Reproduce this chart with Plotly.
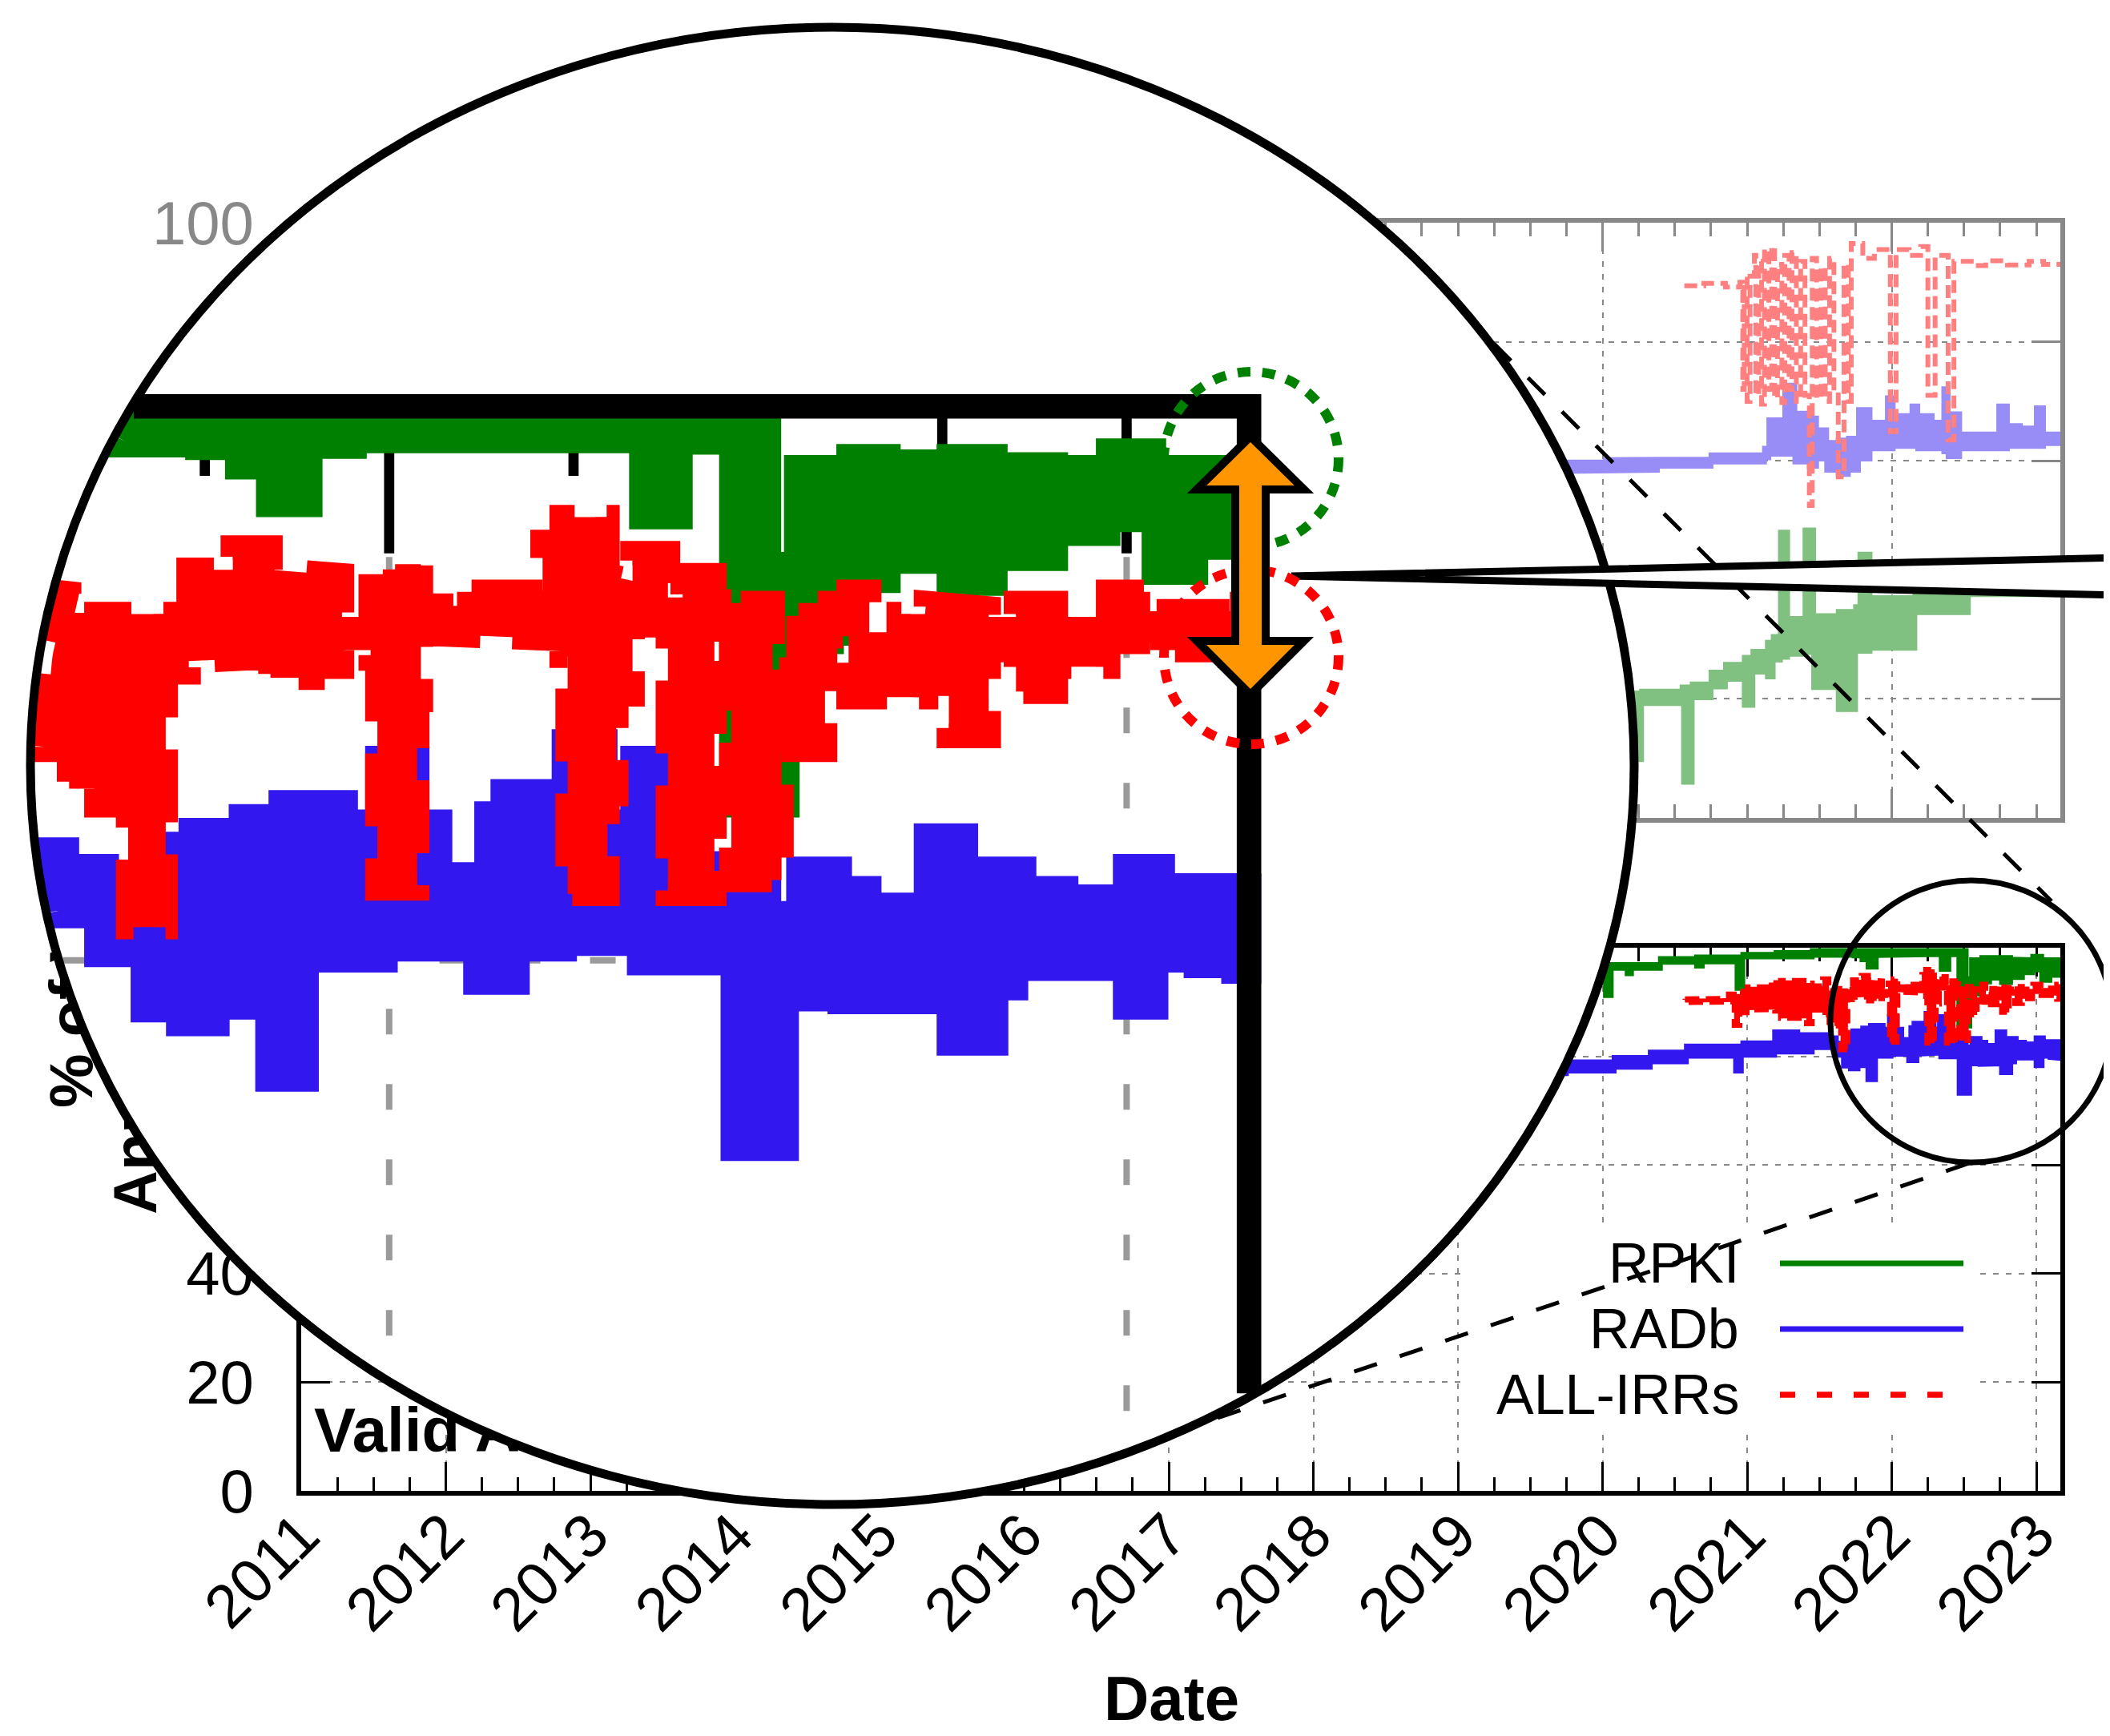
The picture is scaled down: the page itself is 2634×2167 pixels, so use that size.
import math
import plotly.graph_objects as go

W, H = 2634, 2167
FONT = "Liberation Sans, Arial, Helvetica, sans-serif"

# ---------------- ticks ----------------
years = list(range(2011, 2024))
year_labels = [str(y) for y in years]
upper_major_years = [2012, 2014, 2016, 2018, 2020, 2022]
pct_ticks = [0, 20, 40, 60, 80, 100]
END = 2023.166

# ---------------- lower panel (Valid Announcements), step envelopes ----------------
rpki_hi_x = [2018.5, 2019.5, 2019.95, 2020.40, 2020.65, 2020.97, 2021.2, 2021.45, 2022.515, 2022.552,
             2022.600, 2022.623, 2022.677, 2022.759, 2022.822, 2022.904, 2022.975, 2023.037, END]
rpki_hi = [98.0, 97.5, 96.9, 98.0, 98.3, 98.8, 99.1, 99.5, 94.3, 97.8,
           95.3, 98.2, 98.0, 98.2, 97.9, 97.8, 98.4, 97.8]
rpki_lo_x = [2018.5, 2019.5, 2019.95, 2020.02, 2020.06, 2020.17, 2020.20, 2020.40, 2020.65, 2020.69,
             2020.93, 2020.97, 2021.2, 2021.45, 2021.725, 2021.740, 2021.794, 2021.836, 2021.893, 2021.953,
             2022.342, 2022.395, 2022.464, 2022.540, 2022.552, 2022.600, 2022.623, 2022.677, 2022.759, 2022.822,
             2022.850, 2022.904, 2022.975, 2023.037, 2023.094, END]
rpki_lo = [95.5, 95.8, 96.0, 91.2, 96.2, 95.2, 96.2, 97.3, 96.6, 97.4,
           92.5, 98.3, 98.3, 98.6, 98.87, 98.5, 97.8, 96.44, 98.55, 98.75,
           96.0, 98.7, 85.6, 91.2, 91.5, 91.8, 93.7, 94.4, 93.6, 95.8,
           94.5, 95.4, 95.9, 94.0, 94.9]

radb_hi_x = [2018.5, 2019.5, 2019.75, 2020.08, 2020.33, 2020.58, 2020.97, 2021.19, 2021.35, 2021.563,
             2021.617, 2021.697, 2021.731, 2021.799, 2021.853, 2021.941, 2021.967, 2021.984, 2022.038, 2022.069,
             2022.132, 2022.154, 2022.214, 2022.237, 2022.293, 2022.330, 2022.384, 2022.515, 2022.555, 2022.611,
             2022.651, 2022.728, 2022.782, 2022.805, 2022.861, 2022.918, 2022.929, 2022.998, 2023.049, 2023.060, END]
radb_hi = [78.0, 78.5, 79.0, 79.8, 80.8, 81.9, 82.5, 84.5, 84.0, 83.4,
           82.4, 84.2, 84.7, 85.2, 85.7, 82.5, 85.0, 87.3, 85.0, 83.1,
           85.3, 86.1, 85.4, 87.9, 85.0, 87.3, 83.5, 81.7, 83.3, 82.6,
           82.0, 84.5, 82.3, 83.3, 82.6, 81.7, 82.3, 83.4, 81.9, 82.7]
radb_lo_x = [2018.5, 2019.5, 2019.75, 2020.08, 2020.33, 2020.58, 2020.92, 2020.96, 2021.19, 2021.45,
             2021.603, 2021.666, 2021.714, 2021.767, 2021.820, 2021.835, 2021.888, 2021.995, 2022.117, 2022.174,
             2022.238, 2022.339, 2022.466, 2022.539, 2022.594, 2022.611, 2022.748, 2022.759, 2022.823, 2022.850,
             2022.998, 2023.040, 2023.094, 2023.145, END]
radb_lo = [76.0, 76.8, 77.3, 78.0, 79.0, 80.0, 77.3, 80.2, 80.8, 81.6,
           80.2, 78.2, 77.7, 78.3, 79.4, 75.7, 80.0, 80.4, 79.2, 80.4,
           80.6, 79.9, 73.2, 78.6, 79.8, 78.5, 78.6, 77.0, 79.0, 79.7,
           78.3, 80.0, 79.8, 79.6]

irr_hi_x = [2020.57, 2020.70, 2020.87, 2020.95, 2021.00, 2021.15, 2021.23, 2021.41, 2021.45, 2021.521,
            2021.566, 2021.603, 2021.697, 2021.708, 2021.728, 2021.788, 2021.839, 2021.896, 2021.936, 2021.975,
            2022.008, 2022.043, 2022.092, 2022.208, 2022.234, 2022.296, 2022.308, 2022.330, 2022.378, 2022.398,
            2022.441, 2022.464, 2022.520, 2022.555, 2022.623, 2022.651, 2022.691, 2022.728, 2022.759, 2022.813,
            2022.850, 2022.904, 2022.975, 2023.032, 2023.140, END]
irr_hi = [90.6, 90.7, 91.5, 92.0, 92.8, 93.6, 94.0, 93.5, 93.0, 94.3,
          92.1, 92.5, 91.0, 92.8, 94.1, 94.9, 94.1, 93.9, 92.4, 93.5,
          94.3, 92.8, 93.3, 95.1, 96.0, 93.9, 93.7, 94.7, 93.1, 93.9,
          93.4, 92.9, 90.5, 92.9, 93.3, 91.4, 92.5, 92.9, 92.7, 92.4,
          92.9, 92.4, 93.3, 92.6, 93.3]
irr_lo_x = [2020.57, 2020.70, 2020.87, 2020.91, 2020.95, 2021.00, 2021.15, 2021.19, 2021.23, 2021.41,
            2021.45, 2021.521, 2021.566, 2021.603, 2021.646, 2021.697, 2021.728, 2021.788, 2021.839, 2021.896,
            2021.936, 2021.975, 2021.984, 2022.038, 2022.043, 2022.092, 2022.234, 2022.242, 2022.296, 2022.308,
            2022.330, 2022.378, 2022.441, 2022.464, 2022.532, 2022.591, 2022.623, 2022.728, 2022.759, 2022.813,
            2022.850, 2022.904, 2022.975, 2023.032, 2023.140, END]
irr_lo = [89.9, 90.0, 90.0, 85.7, 88.0, 88.5, 88.6, 88.3, 87.0, 86.0,
          88.5, 87.6, 86.2, 85.6, 81.2, 90.4, 90.8, 90.95, 90.2, 90.6,
          91.2, 90.9, 82.6, 89.4, 91.8, 91.6, 91.0, 82.4, 86.0, 89.6,
          92.1, 82.4, 91.5, 82.9, 87.6, 91.7, 89.5, 90.3, 88.1, 91.2,
          89.7, 90.6, 91.5, 91.2, 90.5]

# ---------------- upper (faded) panel ----------------
up_irr_x = [2020.566, 2020.70, 2020.85, 2020.95, 2020.97, 2020.98, 2021.00, 2021.02, 2021.05, 2021.06,
            2021.08, 2021.10, 2021.12, 2021.15, 2021.17, 2021.19, 2021.21, 2021.24, 2021.26, 2021.29,
            2021.31, 2021.34, 2021.37, 2021.40, 2021.43, 2021.45, 2021.48, 2021.51, 2021.54, 2021.57,
            2021.60, 2021.63, 2021.67, 2021.70, 2021.72, 2021.80, 2021.88, 2021.99, 2022.03, 2022.12,
            2022.20, 2022.25, 2022.30, 2022.39, 2022.43, 2022.55, 2022.65, 2022.80, 2022.95, 2023.05, END]
up_irr = [89.4, 89.8, 89.2, 90.0, 72.0, 90.5, 70.0, 91.0, 94.5, 71.0,
          93.5, 69.5, 95.5, 72.0, 96.0, 70.5, 93.0, 69.8, 94.5, 72.0,
          95.0, 70.0, 93.5, 71.0, 52.5, 94.0, 70.5, 92.5, 70.0, 94.0,
          71.5, 57.3, 93.0, 70.0, 96.5, 94.0, 95.5, 64.9, 95.5, 94.5,
          96.0, 71.0, 94.5, 63.5, 93.5, 92.8, 93.6, 92.9, 93.5, 93.0, 93.0]
up_radb_x = [2018.5, 2019.73, 2020.02, 2020.38, 2020.75, 2021.12, 2021.15, 2021.26, 2021.33, 2021.43,
             2021.48, 2021.55, 2021.63, 2021.70, 2021.77, 2021.85, 2021.97, 2022.01, 2022.14, 2022.18,
             2022.28, 2022.36, 2022.39, 2022.47, 2022.74, 2022.80, 2022.89, 2023.00, 2023.05, END]
up_radb_hi = [59.8, 59.8, 60.2, 60.3, 61.0, 62.1, 66.9, 72.7, 68.0, 67.2,
              65.2, 63.1, 63.5, 63.8, 68.6, 66.5, 70.6, 67.6, 69.2, 67.6,
              66.5, 72.1, 67.9, 64.5, 69.2, 65.9, 65.5, 68.9, 64.5]
up_radb_lo = [57.8, 58.2, 58.4, 59.1, 59.8, 60.5, 61.1, 61.1, 59.8, 59.1,
              60.3, 58.4, 57.7, 58.4, 60.3, 62.0, 62.0, 62.4, 62.4, 62.0,
              62.0, 61.5, 60.7, 62.0, 62.0, 62.4, 62.4, 62.4, 62.9]
up_rpki_x = [2018.5, 2019.8, 2020.18, 2020.24, 2020.27, 2020.55, 2020.56, 2020.62, 2020.75, 2020.85,
             2020.98, 2021.04, 2021.14, 2021.18, 2021.23, 2021.28, 2021.40, 2021.46, 2021.63, 2021.75,
             2021.78, 2021.85, 2022.16, 2022.53, END]
up_rpki_hi = [18.0, 19.0, 21.0, 21.0, 21.3, 22.0, 22.0, 22.5, 24.5, 25.8,
              27.0, 28.0, 29.5, 30.5, 48.0, 33.5, 48.4, 34.0, 34.7, 35.5,
              44.3, 37.0, 38.5, 41.0]
up_rpki_lo = [15.5, 16.5, 19.0, 9.8, 19.2, 19.8, 6.0, 20.2, 22.0, 23.3,
              18.9, 24.5, 23.7, 26.5, 27.0, 27.5, 27.8, 21.9, 18.2, 28.0,
              28.0, 28.5, 34.5, 37.5]

legend_names = ["RPKI", "RADb", "ALL-IRRs"]
y_title_lines = ["% of Valid", "Announcements"]
panel_label = "Valid Announcements"

# ---------------- colours ----------------
GREEN, BLUE, RED = "#008000", "#3218ee", "#ff0000"
F_GREEN, F_BLUE, F_RED = "#80c080", "#988cf6", "#ff8080"
GRAY = "#888888"
ORANGE = "#ff9500"

# ---------------- geometry (pixels) ----------------
PL, PR = 368, 2564
MT, MB = 1175, 1853
UT, UB = 270, 1013
X0 = 2011.0
PPX = (PR - PL) / (END - X0)
PPY = (MB - MT) / 100.0
LW = 6

EX, EY, RX, RY = 1031, 948, 1001, 922          # magnifier ellipse
MAG = 5.1
SRC_X = X0 + (2462 - PL) / PPX                 # magnified source point
SRC_Y = (MB - 1263) / PPY
ZPX, ZPY = PPX * MAG, PPY * MAG
LWZ = LW * MAG

UPX, UPY = "x", "y"      # faded upper panel
TTX, TTY = "x2", "y2"    # holder for the rotated y title (pixel-scaled, hidden axes)
MNX, MNY = "x3", "y3"    # main panel
ZMX, ZMY = "x4", "y4"    # magnified view


def fx(x):
    return x / W


def fy(y):
    return 1 - y / H


def step_band(hx, hv, lx, lv):
    xs, ys = [], []
    for i, v in enumerate(hv):
        xs += [hx[i], hx[i + 1]]
        ys += [v, v]
    bx, by = [], []
    for i, v in enumerate(lv):
        bx += [lx[i], lx[i + 1]]
        by += [v, v]
    xs += bx[::-1]
    ys += by[::-1]
    xs.append(xs[0])
    ys.append(ys[0])
    return xs, ys


def ell_poly(shrink, n=720):
    a = (RX - shrink) / ZPX
    b = (RY - shrink) / ZPY
    return [(SRC_X + a * math.cos(2 * math.pi * k / n), SRC_Y + b * math.sin(2 * math.pi * k / n))
            for k in range(n)]


def clip_polygon(pts, clip):
    out = pts
    for i in range(len(clip)):
        A = clip[i]
        B = clip[(i + 1) % len(clip)]
        inp, out = out, []
        if not inp:
            break

        def inside(P):
            return (B[0] - A[0]) * (P[1] - A[1]) - (B[1] - A[1]) * (P[0] - A[0]) >= 0

        def inter(P, Q):
            x1, y1 = P
            x2, y2 = Q
            x3, y3 = A
            x4, y4 = B
            den = (x1 - x2) * (y3 - y4) - (y1 - y2) * (x3 - x4)
            t = ((x1 - x3) * (y3 - y4) - (y1 - y3) * (x3 - x4)) / den
            return (x1 + t * (x2 - x1), y1 + t * (y2 - y1))

        S = inp[-1]
        for E in inp:
            if inside(E):
                if not inside(S):
                    out.append(inter(S, E))
                out.append(E)
            elif inside(S):
                out.append(inter(S, E))
            S = E
    return out


def clip_seg(p, q, shrink):
    a = (RX - shrink) / ZPX
    b = (RY - shrink) / ZPY
    ux, uy = (p[0] - SRC_X) / a, (p[1] - SRC_Y) / b
    vx, vy = (q[0] - SRC_X) / a, (q[1] - SRC_Y) / b
    dx, dy = vx - ux, vy - uy
    A = dx * dx + dy * dy
    B = 2 * (ux * dx + uy * dy)
    C = ux * ux + uy * uy - 1
    disc = B * B - 4 * A * C
    if A == 0 or disc <= 0:
        return None
    s = math.sqrt(disc)
    t0 = max(0.0, (-B - s) / (2 * A))
    t1 = min(1.0, (-B + s) / (2 * A))
    if t0 >= t1:
        return None
    P = (p[0] + t0 * (q[0] - p[0]), p[1] + t0 * (q[1] - p[1]))
    Q = (p[0] + t1 * (q[0] - p[0]), p[1] + t1 * (q[1] - p[1]))
    return P, Q


fig = go.Figure()
common = dict(mode="lines", hoverinfo="skip", showlegend=False)

# ---------------- upper faded panel ----------------
gx, gy = step_band(up_rpki_x, up_rpki_hi, up_rpki_x, up_rpki_lo)
fig.add_trace(go.Scatter(x=gx, y=gy, fill="toself", fillcolor=F_GREEN,
                         line=dict(color=F_GREEN, width=LW), xaxis=UPX, yaxis=UPY, **common))
bx, by = step_band(up_radb_x, up_radb_hi, up_radb_x, up_radb_lo)
fig.add_trace(go.Scatter(x=bx, y=by, fill="toself", fillcolor=F_BLUE,
                         line=dict(color=F_BLUE, width=LW), xaxis=UPX, yaxis=UPY, **common))
fig.add_trace(go.Scatter(x=up_irr_x, y=up_irr, line=dict(color=F_RED, width=LW, dash="16px,8px", shape="hv"),
                         xaxis=UPX, yaxis=UPY, **common))

# ---------------- rotated y-axis title (bar text, so the lens can cover it) ----------------
t_cx = [80, 160]                       # text column centres (px)
t_start = [1372, 1505]                 # where each line starts (bottom, px)
fig.add_trace(go.Bar(x=t_cx, y=[4, 4], base=[H - s - 7 for s in t_start], width=[6, 6],
                     text=y_title_lines, textposition="outside", textangle=-90,
                     constraintext="none", cliponaxis=False,
                     textfont=dict(family=FONT, size=76, color="black", weight="bold"),
                     outsidetextfont=dict(family=FONT, size=76, color="black", weight="bold"),
                     marker=dict(color="rgba(0,0,0,0)", line=dict(width=0)),
                     hoverinfo="skip", showlegend=False, xaxis=TTX, yaxis=TTY))

# ---------------- main panel ----------------
kx0, kx1 = X0 + (1815 - PL) / PPX, X0 + (2457 - PL) / PPX
ky0, ky1 = (MB - 1780) / PPY, (MB - 1525) / PPY
fig.add_trace(go.Scatter(x=[kx0, kx1, kx1, kx0, kx0], y=[ky0, ky0, ky1, ky1, ky0], fill="toself",
                         fillcolor="white", line=dict(width=0), xaxis=MNX, yaxis=MNY, **common))

series = [
    (radb_hi_x, radb_hi, radb_lo_x, radb_lo, BLUE, None),
    (rpki_hi_x, rpki_hi, rpki_lo_x, rpki_lo, GREEN, None),
    (irr_hi_x, irr_hi, irr_lo_x, irr_lo, RED, (18, 8)),
]
for hx, hv, lx, lv, col, dash in series:
    px_, py_ = step_band(hx, hv, lx, lv)
    d = "solid" if dash is None else "%dpx,%dpx" % dash
    fig.add_trace(go.Scatter(x=px_, y=py_, fill="toself", fillcolor=col,
                             line=dict(color=col, width=LW, dash=d), xaxis=MNX, yaxis=MNY, **common))

fig.add_trace(go.Scatter(x=[X0 + (384 - PL) / PPX], y=[(MB - 1784) / PPY], mode="text",
                         text=["<b>%s</b>" % panel_label], textposition="middle right",
                         textfont=dict(family=FONT, size=78, color="black"),
                         hoverinfo="skip", showlegend=False, xaxis=MNX, yaxis=MNY))

# ---------------- magnified view ----------------
all_q = sorted([y + q for y in range(2021, 2024) for q in (0.0, 0.25, 0.5, 0.75)])

gxs, gys = [], []
for yv in (2022, 2023):
    s = clip_seg((yv, 100), (yv, 40), 5)
    if s:
        gxs += [s[0][0], s[1][0], None]
        gys += [s[0][1], s[1][1], None]
for pv in (80, 60):
    s = clip_seg((2011, pv), (END, pv), 5)
    if s:
        gxs += [s[0][0], s[1][0], None]
        gys += [s[0][1], s[1][1], None]
fig.add_trace(go.Scatter(x=gxs, y=gys, line=dict(color="#9a9a9a", width=8, dash="32px,62px"),
                         xaxis=ZMX, yaxis=ZMY, **common))

TMIN, TMAJ, TW = 17, 36, 2.5
txs, tys = [], []
for q in all_q:
    if q > END:
        continue
    L = (TMAJ if abs(q - round(q)) < 1e-9 else TMIN) * MAG / ZPY
    s = clip_seg((q, 100), (q, 100 - L), 6)
    if s:
        txs += [s[0][0], s[1][0], None]
        tys += [s[0][1], s[1][1], None]
for pv in (80, 60, 40):
    s = clip_seg((END, pv), (END - TMAJ * MAG / ZPX, pv), 6)
    if s:
        txs += [s[0][0], s[1][0], None]
        tys += [s[0][1], s[1][1], None]
fig.add_trace(go.Scatter(x=txs, y=tys, line=dict(color="black", width=TW * MAG),
                         xaxis=ZMX, yaxis=ZMY, **common))

clipper = ell_poly(LWZ / 2 + 1)
for hx, hv, lx, lv, col, dash in series:
    px_, py_ = step_band(hx, hv, lx, lv)
    pts = clip_polygon(list(zip(px_[:-1], py_[:-1])), clipper)
    if not pts:
        continue
    zx = [p[0] for p in pts] + [pts[0][0]]
    zy = [p[1] for p in pts] + [pts[0][1]]
    d = "solid" if dash is None else "%dpx,%dpx" % (dash[0] * MAG, dash[1] * MAG)
    fig.add_trace(go.Scatter(x=zx, y=zy, fill="toself", fillcolor=col,
                             line=dict(color=col, width=LWZ, dash=d), xaxis=ZMX, yaxis=ZMY, **common))

top = clip_seg((2011, 100), (END, 100), 2)
right = clip_seg((END, 100), (END, 0), 4)
fig.add_trace(go.Scatter(x=[top[0][0], END, right[1][0]], y=[100, 100, right[1][1]],
                         line=dict(color="black", width=LW * MAG), xaxis=ZMX, yaxis=ZMY, **common))

# ---------------- axes ----------------
q_minor = [y + q for y in range(2011, 2023) for q in (0.25, 0.5, 0.75)]
q_minor_up = sorted(q_minor + [y for y in years if y not in upper_major_years])

base_axis = dict(showline=True, linewidth=LW, mirror="ticks", ticks="inside", ticklen=TMAJ,
                 tickwidth=TW, zeroline=False, fixedrange=True, showgrid=True,
                 gridwidth=1.6, griddash="7px,9px", layer="below traces")

layout = dict(
    width=W, height=H, autosize=False, margin=dict(l=0, r=0, t=0, b=0),
    paper_bgcolor="white", plot_bgcolor="rgba(0,0,0,0)", showlegend=False,
    font=dict(family=FONT, size=76, color="black"), hovermode=False,
    xaxis=dict(base_axis, domain=[fx(PL), fx(PR)], range=[X0, END], anchor="y",
               linecolor=GRAY, tickcolor=GRAY, gridcolor=GRAY, tickmode="array",
               tickvals=upper_major_years, showticklabels=False,
               minor=dict(tickmode="array", tickvals=q_minor_up, ticks="inside", ticklen=TMIN,
                          tickwidth=TW, tickcolor=GRAY, showgrid=False)),
    yaxis=dict(base_axis, domain=[fy(UB), fy(UT)], range=[0, 100], anchor="x",
               linecolor=GRAY, tickcolor=GRAY, gridcolor=GRAY, tickmode="array",
               tickvals=pct_ticks, tickfont=dict(size=76, color=GRAY), ticklabelstandoff=38),
    xaxis2=dict(domain=[0, 1], range=[0, W], anchor="y2", visible=False, fixedrange=True),
    yaxis2=dict(domain=[0, 1], range=[0, H], anchor="x2", visible=False, fixedrange=True),
    xaxis3=dict(base_axis, domain=[fx(PL), fx(PR)], range=[X0, END], anchor="y3",
                linecolor="black", tickcolor="black", gridcolor=GRAY, tickmode="array",
                tickvals=years, ticktext=year_labels, tickangle=-45,
                tickfont=dict(size=76, color="black"), ticklabelstandoff=-26,
                minor=dict(tickmode="array", tickvals=q_minor, ticks="inside", ticklen=TMIN,
                           tickwidth=TW, tickcolor="black", showgrid=False)),
    yaxis3=dict(base_axis, domain=[fy(MB), fy(MT)], range=[0, 100], anchor="x3",
                linecolor="black", tickcolor="black", gridcolor=GRAY, tickmode="array",
                tickvals=pct_ticks, tickfont=dict(size=76, color="black"), ticklabelstandoff=38),
    xaxis4=dict(domain=[0, 1], range=[SRC_X - EX / ZPX, SRC_X + (W - EX) / ZPX], anchor="y4",
                visible=False, fixedrange=True),
    yaxis4=dict(domain=[0, 1], range=[SRC_Y - (H - EY) / ZPY, SRC_Y + EY / ZPY], anchor="x4",
                visible=False, fixedrange=True),
)

shapes = []
shapes.append(dict(type="circle", xref=ZMX, yref=ZMY, layer="below",
                   x0=SRC_X - RX / ZPX, x1=SRC_X + RX / ZPX, y0=SRC_Y - RY / ZPY, y1=SRC_Y + RY / ZPY,
                   fillcolor="white", line=dict(width=0)))
shapes.append(dict(type="circle", xref="paper", yref="paper", layer="above",
                   x0=fx(EX - RX), x1=fx(EX + RX), y0=fy(EY + RY), y1=fy(EY - RY),
                   line=dict(color="black", width=11)))
for (x1, y1, x2, y2) in [(1857, 421, 2553, 1117), (1512, 1762, 2453, 1443)]:
    shapes.append(dict(type="line", xref="paper", yref="paper", layer="above",
                       x0=fx(x1), y0=fy(y1), x1=fx(x2), y1=fy(y2),
                       line=dict(color="black", width=5, dash="30px,30px")))
SCX, SCY, SR = 2453, 1267, 176
shapes.append(dict(type="circle", xref="paper", yref="paper", layer="above",
                   x0=fx(SCX - SR), x1=fx(SCX + SR), y0=fy(SCY + SR), y1=fy(SCY - SR),
                   line=dict(color="black", width=7)))
shapes.append(dict(type="path", xref="paper", yref="paper", layer="above",
                   path="M %.5f,%.5f L %.5f,%.5f L %.5f,%.5f Z" % (fx(1604), fy(711), fx(2645), fy(688),
                                                                 fx(2645), fy(735)),
                   fillcolor="white", line=dict(color="black", width=9)))
for cy, col in [(565, GREEN), (812, RED)]:
    shapes.append(dict(type="circle", xref="paper", yref="paper", layer="above",
                       x0=fx(1554 - 109), x1=fx(1554 + 109), y0=fy(cy + 109), y1=fy(cy - 109),
                       line=dict(color=col, width=12, dash="16px,15px")))
ax_pts = [(1553, 537), (1620, 603), (1572, 603), (1572, 792), (1620, 792), (1553, 859),
          (1486, 792), (1534, 792), (1534, 603), (1486, 603)]
path = "M " + " L ".join("%.5f,%.5f" % (fx(x), fy(y)) for x, y in ax_pts) + " Z"
shapes.append(dict(type="path", xref="paper", yref="paper", layer="above", path=path,
                   fillcolor=ORANGE, line=dict(color="black", width=10)))
key_y = [1569, 1651, 1733]
key_cols = [GREEN, BLUE, RED]
for yk, col, nm in zip(key_y, key_cols, legend_names):
    dashed = nm == "ALL-IRRs"
    shapes.append(dict(type="line", xref="paper", yref="paper", layer="above",
                       x0=fx(2214), x1=fx(2420 if dashed else 2443), y0=fy(yk), y1=fy(yk),
                       line=dict(color=col, width=7.5 if dashed else 7,
                                 dash="19px,27px" if dashed else "solid")))

annotations = []
for yk, nm in zip(key_y, legend_names):
    annotations.append(dict(xref="paper", yref="paper", x=fx(2164), y=fy(yk), xanchor="right",
                            yanchor="middle", text=nm, showarrow=False, borderpad=0,
                            font=dict(family=FONT, size=70, color="black")))
annotations.append(dict(xref="paper", yref="paper", x=fx(1454), y=fy(2158), xanchor="center",
                        yanchor="bottom", text="<b>Date</b>", showarrow=False,
                        font=dict(family=FONT, size=78, color="black")))

layout["shapes"] = shapes
layout["annotations"] = annotations
fig.update_layout(template="none")
fig.update_layout(**layout)
fig.write_html("out.html")
